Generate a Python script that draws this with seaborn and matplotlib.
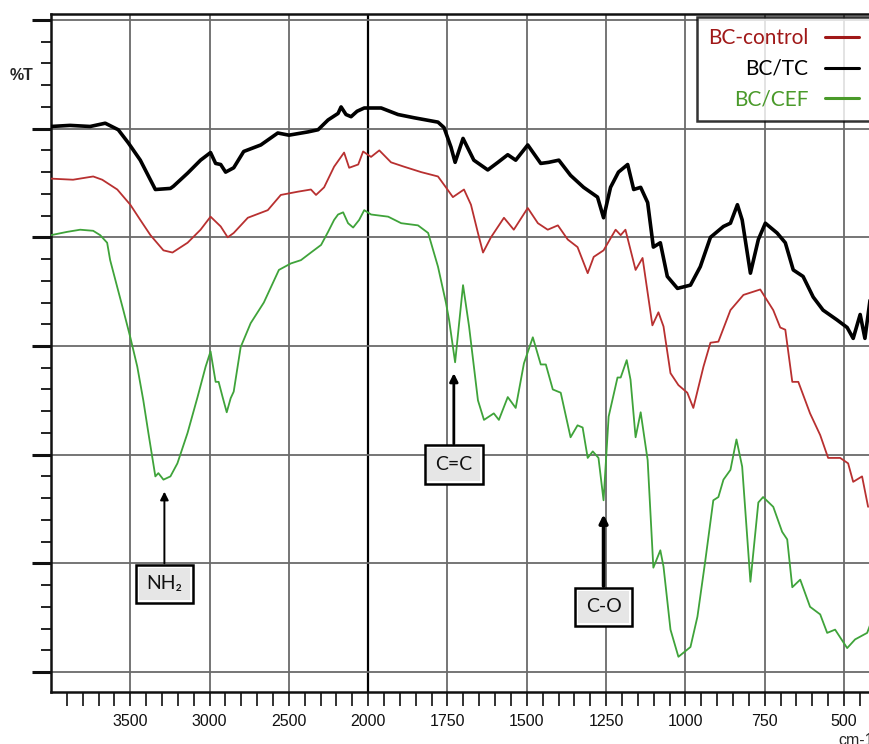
import numpy as np
import pandas as pd
import matplotlib
matplotlib.use("Agg")
import matplotlib.pyplot as plt
import seaborn as sns

# FTIR spectra (wavenumber cm-1, %T in arbitrary offset units)
tc_wn = [4000, 3880, 3753, 3658, 3576, 3513, 3437, 3342, 3247, 3228, 3139, 3057, 2994, 2962,
         2930, 2899, 2848, 2785, 2677, 2570, 2500, 2380, 2316, 2253, 2190, 2171, 2140, 2108,
         2070, 2025, 1959, 1906, 1855, 1780, 1761, 1739, 1726, 1701, 1667, 1623, 1591, 1560,
         1535, 1497, 1456, 1431, 1399, 1362, 1321, 1277, 1258, 1236, 1211, 1182, 1163, 1141,
         1119, 1101, 1079, 1057, 1025, 984, 953, 921, 880, 858, 836, 821, 795, 770, 748, 711,
         685, 660, 629, 597, 566, 522, 490, 471, 449, 434, 418]
tc_t = [90.2, 90.3, 90.2, 90.5, 89.9, 88.7, 87.1, 84.4, 84.5, 84.7, 85.9, 87.1, 87.8, 86.8,
        86.7, 86.0, 86.4, 87.9, 88.5, 89.6, 89.4, 89.7, 89.9, 90.8, 91.4, 92.0, 91.3, 91.1,
        91.6, 91.9, 91.9, 91.3, 91.0, 90.6, 90.1, 88.3, 86.9, 89.1, 87.1, 86.2, 86.9, 87.6,
        87.1, 88.5, 86.8, 86.9, 87.1, 85.7, 84.6, 83.7, 81.8, 84.6, 86.0, 86.7, 84.4, 84.6,
        83.2, 79.1, 79.5, 76.4, 75.3, 75.6, 77.3, 80.0, 81.0, 81.3, 83.0, 81.6, 76.7, 79.8,
        81.3, 80.4, 79.5, 77.0, 76.4, 74.5, 73.3, 72.4, 71.7, 70.7, 72.9, 70.7, 74.2]

ctrl_wn = [4000, 3861, 3734, 3677, 3582, 3500, 3437, 3373, 3291, 3234, 3139, 3057, 2994,
           2930, 2886, 2848, 2759, 2633, 2551, 2443, 2361, 2329, 2278, 2215, 2152, 2120,
           2063, 2032, 1991, 1965, 1928, 1887, 1833, 1780, 1755, 1733, 1698, 1676, 1654,
           1638, 1613, 1572, 1541, 1497, 1465, 1434, 1402, 1371, 1340, 1308, 1289, 1258,
           1220, 1204, 1189, 1157, 1135, 1104, 1085, 1069, 1047, 1022, 994, 975, 943, 921,
           896, 858, 817, 764, 723, 701, 685, 663, 644, 607, 575, 550, 512, 487, 471, 443, 424]
ctrl_t = [85.4, 85.3, 85.6, 85.3, 84.4, 83.0, 81.6, 80.2, 78.8, 78.6, 79.5, 80.7, 81.9,
          81.0, 80.0, 80.4, 81.8, 82.5, 83.9, 84.2, 84.4, 83.9, 84.6, 86.5, 87.8, 86.4,
          86.7, 87.9, 87.4, 88.0, 86.9, 86.5, 86.0, 85.6, 84.6, 83.7, 84.4, 83.0, 80.4,
          78.6, 80.0, 81.8, 80.7, 82.7, 81.3, 80.7, 81.1, 79.8, 79.1, 76.7, 78.2, 78.8,
          80.7, 80.2, 80.7, 77.0, 78.1, 71.9, 73.1, 71.8, 67.5, 66.4, 65.7, 64.3, 68.1, 70.3,
          70.4, 73.3, 74.7, 75.2, 73.3, 71.7, 71.5, 66.7, 66.7, 63.8, 61.8, 59.7, 59.7, 59.2,
          57.5, 58.0, 55.2]

cef_wn = [4000, 3899, 3816, 3734, 3690, 3646, 3627, 3582, 3544, 3500, 3456, 3418, 3386,
          3342, 3323, 3291, 3247, 3203, 3139, 3076, 3025, 2994, 2962, 2943, 2918, 2892,
          2867, 2848, 2804, 2741, 2658, 2563, 2487, 2424, 2361, 2297, 2253, 2215, 2190,
          2158, 2127, 2095, 2057, 2025, 1991, 1937, 1896, 1843, 1811, 1780, 1755, 1745,
          1726, 1701, 1682, 1654, 1635, 1604, 1588, 1560, 1535, 1509, 1481, 1456, 1440,
          1418, 1393, 1362, 1340, 1324, 1308, 1292, 1274, 1258, 1242, 1214, 1204, 1185,
          1173, 1157, 1141, 1119, 1101, 1079, 1069, 1047, 1022, 984, 962, 937, 912, 896,
          880, 858, 839, 821, 795, 770, 755, 723, 695, 679, 663, 638, 607, 575, 553, 528,
          490, 465, 427, 418]
cef_t = [80.2, 80.5, 80.7, 80.6, 80.2, 79.5, 77.9, 75.4, 73.3, 70.8, 68.1, 65.0, 62.0,
         58.0, 58.3, 57.7, 58.0, 59.2, 62.0, 65.3, 68.1, 69.5, 66.7, 66.7, 65.3, 63.9,
         65.2, 65.8, 69.9, 72.1, 74.0, 77.0, 77.6, 77.9, 78.6, 79.3, 80.5, 81.6, 82.1,
         82.3, 81.3, 80.9, 81.6, 82.5, 82.1, 81.9, 81.3, 81.1, 80.4, 77.3, 74.0, 72.4,
         68.5, 75.6, 71.8, 65.0, 63.2, 63.8, 63.2, 65.3, 64.3, 68.4, 70.8, 68.3, 68.3,
         66.0, 65.7, 61.6, 62.7, 62.5, 59.7, 60.3, 59.7, 55.8, 63.5, 67.1, 67.1, 68.7,
         66.9, 61.6, 63.9, 59.5, 49.6, 51.2, 49.7, 43.9, 41.4, 42.3, 45.1, 50.3, 55.8, 56.1,
         57.7, 58.6, 61.4, 58.9, 48.3, 55.6, 56.1, 55.2, 52.9, 52.2, 47.8, 48.5, 46.0, 45.3,
         43.6, 43.9, 42.2, 43.0, 43.6, 44.3]

series_names = ["BC-control", "BC/TC", "BC/CEF"]
series_colors = ["#b83030", "#000000", "#3fa33a"]
legend_colors = ["#a01818", "#000000", "#4a9a2a"]

peak_labels = ["NH\u2082", "C=C", "C-O"]
peak_wn = [3285, 1730, 1258]
peak_tip = [56.6, 67.5, 54.5]
peak_box = [48.1, 59.1, 46.0]

x_major = [3500, 3000, 2500, 2000, 1750, 1500, 1250, 1000, 750, 500]

# spectrometer-style axis: 2x expansion below 2000 cm-1
def fwd(x):
    x = np.asarray(x, dtype=float)
    return np.where(x > 2000, 2000 + (x - 2000) / 2, x)

def inv(u):
    u = np.asarray(u, dtype=float)
    return np.where(u > 2000, 2000 + (u - 2000) * 2, u)

sns.set_style("white")
plt.rcParams["font.family"] = ["Liberation Sans", "DejaVu Sans"]

fig = plt.figure(figsize=(8.7, 7.44), dpi=100)
ax = fig.add_axes([51 / 870, 1 - 692 / 744, 1 - 51 / 870, (692 - 14) / 744])
ax.set_xscale("function", functions=(fwd, inv))

data = {
    "BC-control": (ctrl_wn, ctrl_t, 1.3),
    "BC/TC": (tc_wn, tc_t, 2.6),
    "BC/CEF": (cef_wn, cef_t, 1.3),
}
for name, col in zip(series_names, series_colors):
    wn, t, lw = data[name]
    df = pd.DataFrame({"wn": wn, "T": t})
    sns.lineplot(data=df, x="wn", y="T", ax=ax, color=col, lw=lw, label=name,
                 estimator=None, sort=False, zorder=3)

ax.set_xlim(4000, 418)
ax.set_ylim(38.16, 100.55)

ax.set_xticks(x_major)
ax.set_xticklabels([str(v) for v in x_major], fontsize=11.5)
minor_x = [v for v in range(3900, 2000, -100) if v not in x_major] + \
          [v for v in range(1950, 400, -50) if v not in x_major]
ax.set_xticks(minor_x, minor=True)
ax.set_yticks(np.arange(40, 101, 10))
ax.set_yticks(np.arange(40, 101, 2), minor=True)
ax.set_yticklabels([])

ax.tick_params(axis="x", which="both", bottom=True, direction="out", length=10, width=1.3,
               color="#222222", pad=6, labelcolor="#111111")
ax.tick_params(axis="y", which="major", left=True, direction="out", length=14, width=2.2,
               color="#111111")
ax.tick_params(axis="y", which="minor", left=True, direction="out", length=7, width=1.4,
               color="#222222")

ax.grid(True, which="major", color="#6a6a6a", lw=1.3, zorder=1)
for g in ax.get_xgridlines():
    if abs(g.get_xdata()[0] - 2000) < 1:
        g.set_color("#000000")
        g.set_linewidth(1.6)

for s in ["left", "bottom", "top"]:
    ax.spines[s].set_color("#111111")
    ax.spines[s].set_linewidth(1.8)
ax.spines["right"].set_visible(False)

ax.set_xlabel("")
ax.set_ylabel("")
fig.text(10 / 870, 1 - 75 / 744, "%T", fontsize=11.5, fontweight="bold", va="center", ha="left")
fig.text(838 / 870, 1 - 733 / 744, "cm-1", fontsize=11.5, va="top", ha="left")

# peak annotations
arrow_lw = [1.4, 2.0, 2.6]
for lab, wn, tip, box, lw in zip(peak_labels, peak_wn, peak_tip, peak_box, arrow_lw):
    top = box + 1.9
    ax.annotate("", xy=(wn, tip), xytext=(wn, top),
                arrowprops=dict(arrowstyle="-|>", color="black", lw=lw,
                                mutation_scale=12, shrinkA=0, shrinkB=0), zorder=4)
    ax.text(wn, box, lab, ha="center", va="center", fontsize=14, family="Lato", color="none",
            bbox=dict(boxstyle="square,pad=0.55", fc="white", ec="black", lw=1.8), zorder=5)
    ax.text(wn, box, lab, ha="center", va="center", fontsize=14, family="Lato", color="#111111",
            bbox=dict(boxstyle="square,pad=0.4", fc="#e6e6e6", ec="none"), zorder=6)

leg = ax.legend(loc="upper right", bbox_to_anchor=(870 / 870, 1 - 17 / 744),
                bbox_transform=fig.transFigure, markerfirst=False, frameon=True,
                fancybox=False, prop={"family": "Lato", "size": 15}, handlelength=1.6,
                handletextpad=0.8, labelspacing=0.5, borderpad=0.55, borderaxespad=0)
leg.get_frame().set_edgecolor("black")
leg.get_frame().set_linewidth(1.8)
leg.set_zorder(7)
for txt, h, c in zip(leg.get_texts(), leg.legend_handles, legend_colors):
    txt.set_color(c)
    h.set_color(c)
    h.set_linewidth(2.2)

fig.savefig("out.png", dpi=100)
